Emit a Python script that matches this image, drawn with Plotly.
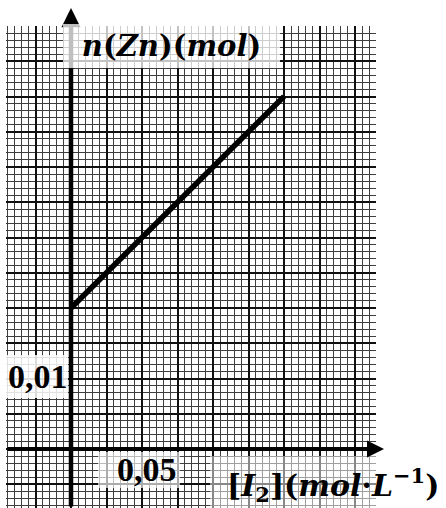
import plotly.graph_objects as go

# Straight-line relation n(Zn) = f([I2])
conc_I2 = [0.0, 0.15]     # [I2] in mol/L
n_Zn = [0.02, 0.05]       # n(Zn) in mol

x_tick_value = 0.05
y_tick_value = 0.01
x_tick_label = "0,05"
y_tick_label = "0,01"

W, H = 446, 508
# graph-paper box in pixels
L, R, T, B = 6, 376, 26, 508
X0_PX, Y0_PX = 71, 449          # pixel where the two axes cross
PX_X = 71.0 / x_tick_value      # pixels per mol/L
PX_Y = 70.5 / y_tick_value      # pixels per mol


def xd(px):
    return (px - X0_PX) / PX_X


def yd(py):
    return (Y0_PX - py) / PX_Y


def xp(px):
    return (px - L) / (R - L)


def yp(py):
    return (B - py) / (B - T)


fig = go.Figure()
fig.add_trace(go.Scatter(
    x=conc_I2, y=n_Zn, mode="lines",
    line=dict(color="black", width=5.5),
    hoverinfo="skip", showlegend=False,
))

grid_minor = "#3e3e3e"
grid_major = "#101010"

fig.update_xaxes(
    range=[xd(L), xd(R)], tick0=0, dtick=x_tick_value / 2,
    showgrid=True, gridcolor=grid_major, gridwidth=1.8,
    minor=dict(dtick=x_tick_value / 10, showgrid=True, gridcolor=grid_minor, gridwidth=1.3),
    showticklabels=False, ticks="", zeroline=False, showline=False, fixedrange=True,
)
fig.update_yaxes(
    range=[yd(B), yd(T)], tick0=0, dtick=y_tick_value / 2,
    showgrid=True, gridcolor=grid_major, gridwidth=1.8,
    minor=dict(dtick=y_tick_value / 10, showgrid=True, gridcolor=grid_minor, gridwidth=1.3),
    showticklabels=False, ticks="", zeroline=False, showline=False, fixedrange=True,
)

# light boxes behind the numeric labels
boxes = [
    (6, 355, 68, 398, 0.85),     # 0,01
    (98, 452, 180, 488, 0.65),   # 0,05
    (210, 456, 376, 508, 0.5),   # x-axis title
]
for x0, y0, x1, y1, a in boxes:
    fig.add_shape(type="rect", xref="paper", yref="paper",
                  x0=xp(x0), x1=xp(x1), y0=yp(y1), y1=yp(y0),
                  fillcolor=f"rgba(255,255,255,{a})", line=dict(width=0), layer="above")

ann = []
# axes with arrowheads
ann.append(dict(x=xd(384), y=0, xref="x", yref="y", ax=xd(L) + 1e-6, ay=0, axref="x", ayref="y",
                text="", showarrow=True, arrowhead=2, arrowsize=0.85, arrowwidth=4, arrowcolor="black"))
ann.append(dict(x=0, y=yd(8), xref="x", yref="y", ax=0, ay=yd(B) + 1e-7, axref="x", ayref="y",
                text="", showarrow=True, arrowhead=2, arrowsize=0.85, arrowwidth=4.5, arrowcolor="black"))

serif_math = "DejaVu Serif"
ann.append(dict(
    x=xp(63), y=yp(24), xref="paper", yref="paper", xanchor="left", yanchor="top",
    width=217, height=44, borderpad=0, borderwidth=0, bgcolor="rgba(255,255,255,0.75)",
    text="<b><i>n</i>(<i>Zn</i>)(<i>mol</i>)</b>", showarrow=False, align="center",
    font=dict(family=serif_math, size=29, color="black"),
))
ann.append(dict(
    x=xp(6), y=yp(376), xref="paper", yref="paper", xanchor="left", yanchor="middle",
    text=f"<b>{y_tick_label}</b>", showarrow=False,
    font=dict(family="Liberation Serif", size=34, color="black"),
))
ann.append(dict(
    x=xd(147), y=yp(469), xref="x", yref="paper", xanchor="center", yanchor="middle",
    text=f"<b>{x_tick_label}</b>", showarrow=False,
    font=dict(family="Liberation Serif", size=34, color="black"),
))
ann.append(dict(
    x=xp(333), y=yp(485), xref="paper", yref="paper", xanchor="center", yanchor="middle",
    text="<b>[<i>I</i><sub>2</sub>](<i>mol</i>·<i>L</i><sup>−1</sup>)</b>", showarrow=False,
    font=dict(family=serif_math, size=30, color="black"),
))
fig.update_layout(
    width=W, height=H, autosize=False,
    margin=dict(l=L, r=W - R, t=T, b=H - B, pad=0),
    paper_bgcolor="white", plot_bgcolor="white",
    annotations=ann, showlegend=False,
)
fig.write_html("out.html", config={"displayModeBar": False})
